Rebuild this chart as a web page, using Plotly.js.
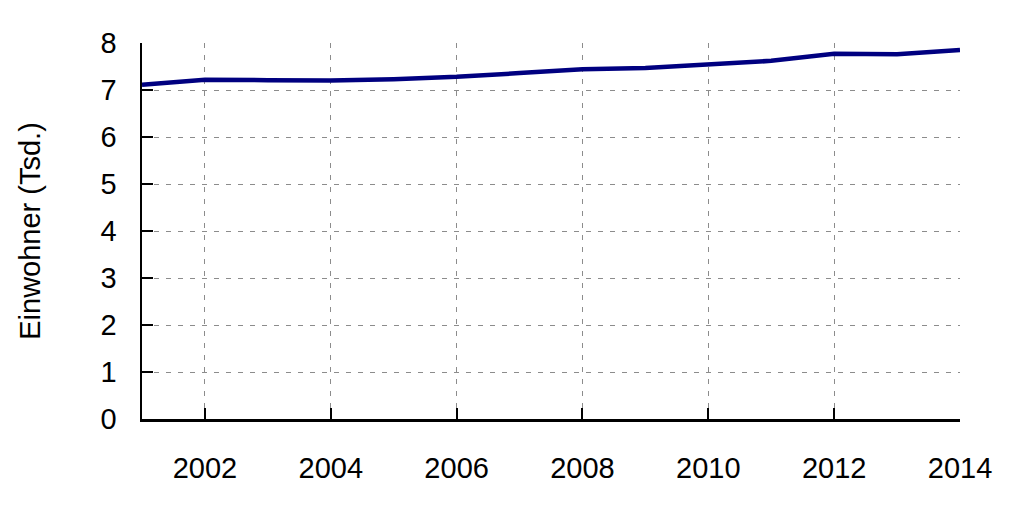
<!DOCTYPE html>
<html>
<head>
<meta charset="utf-8">
<script src="https://cdn.plot.ly/plotly-3.0.1.min.js"></script>
<style>html,body{margin:0;padding:0;background:#fff;}#chart{width:1024px;height:512px;}</style>
</head>
<body>
<div id="chart"></div>
<script>
const years = [2001, 2002, 2003, 2004, 2005, 2006, 2007, 2008, 2009, 2010, 2011, 2012, 2013, 2014];
const population = [7.11, 7.22, 7.21, 7.20, 7.23, 7.28, 7.36, 7.44, 7.47, 7.55, 7.62, 7.77, 7.76, 7.85];
const xTicks = [2002, 2004, 2006, 2008, 2010, 2012, 2014];
const yTicks = [0, 1, 2, 3, 4, 5, 6, 7, 8];
const yTitle = 'Einwohner (Tsd.)';

const font = {family: 'Liberation Sans, Arial, sans-serif', size: 29, color: '#000'};

Plotly.newPlot('chart', [{
  x: years, y: population, type: 'scatter', mode: 'lines',
  line: {color: '#000080', width: 4.5}, hoverinfo: 'skip'
}], {
  width: 1024, height: 512,
  margin: {l: 142, r: 64, t: 43, b: 93},
  paper_bgcolor: '#fff', plot_bgcolor: '#fff',
  showlegend: false,
  font: font,
  xaxis: {
    range: [2001, 2014], tickvals: xTicks, ticktext: xTicks.map(String),
    showgrid: true, gridcolor: '#8c8c8c', griddash: '5px,7px', gridwidth: 1,
    zeroline: false, showline: true, linecolor: '#000', linewidth: 2.5,
    ticks: 'inside', ticklen: 11, tickwidth: 2, tickcolor: '#000',
    ticklabelstandoff: 22, tickfont: font, fixedrange: true
  },
  yaxis: {
    range: [0, 8], tickvals: yTicks, ticktext: yTicks.map(String),
    showgrid: true, gridcolor: '#8c8c8c', griddash: '5px,7px', gridwidth: 1,
    zeroline: false, showline: true, linecolor: '#000', linewidth: 2.5,
    ticks: 'inside', ticklen: 11, tickwidth: 2, tickcolor: '#000',
    ticklabelstandoff: 17, tickfont: font,
    title: {text: yTitle, font: font, standoff: 52}, fixedrange: true
  }
}, {displayModeBar: false, staticPlot: true});
</script>
</body>
</html>
